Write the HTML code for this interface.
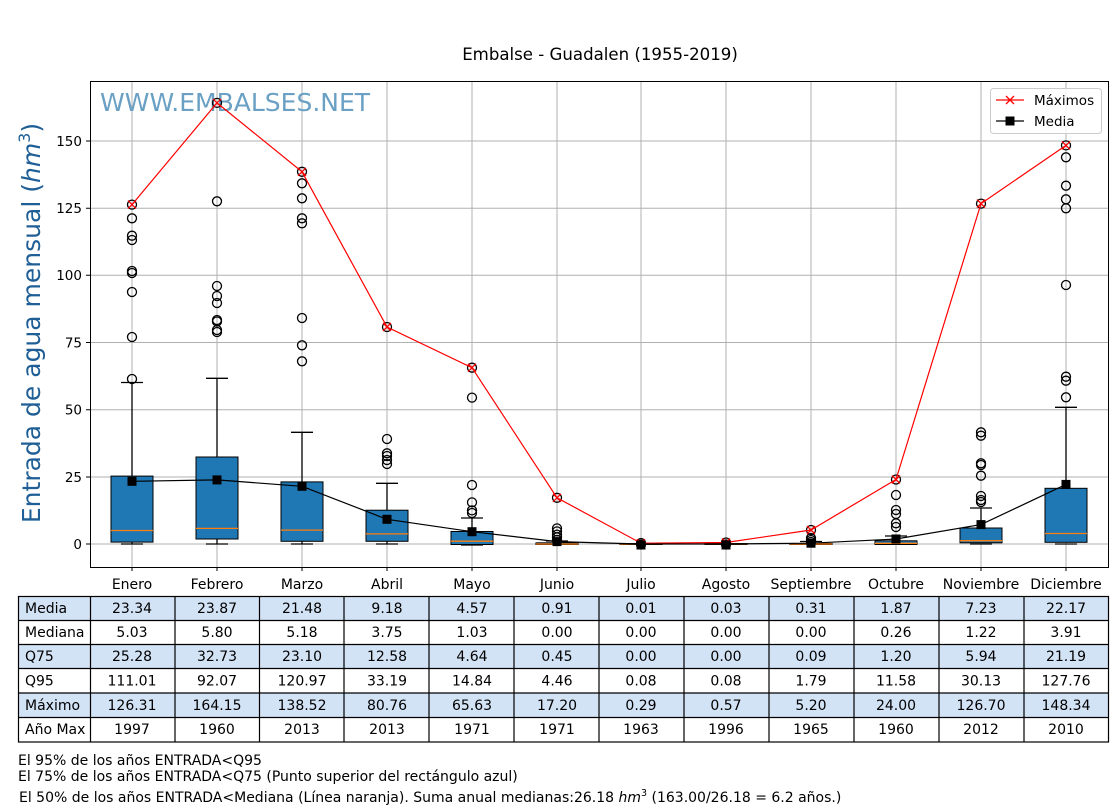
<!DOCTYPE html><html><head><meta charset="utf-8"><style>body{margin:0;background:#fff}svg{display:block}text{font-family:"DejaVu Sans","Liberation Sans",sans-serif}</style></head><body>
<svg width="1120" height="810" viewBox="0 0 1120 810">
<rect width="1120" height="810" fill="#fff"/>
<text x="600" y="60" font-size="16.6" text-anchor="middle">Embalse - Guadalen (1955-2019)</text>
<g stroke="#b0b0b0" stroke-width="1">
<line x1="90" x2="1108" y1="544" y2="544"/><line x1="90" x2="1108" y1="477" y2="477"/><line x1="90" x2="1108" y1="409.7" y2="409.7"/><line x1="90" x2="1108" y1="342.5" y2="342.5"/><line x1="90" x2="1108" y1="275.3" y2="275.3"/><line x1="90" x2="1108" y1="208.2" y2="208.2"/><line x1="90" x2="1108" y1="141" y2="141"/>
<line y1="81" y2="567" x1="132" x2="132"/><line y1="81" y2="567" x1="217" x2="217"/><line y1="81" y2="567" x1="302" x2="302"/><line y1="81" y2="567" x1="387" x2="387"/><line y1="81" y2="567" x1="472" x2="472"/><line y1="81" y2="567" x1="557" x2="557"/><line y1="81" y2="567" x1="641" x2="641"/><line y1="81" y2="567" x1="726" x2="726"/><line y1="81" y2="567" x1="811" x2="811"/><line y1="81" y2="567" x1="896" x2="896"/><line y1="81" y2="567" x1="981" x2="981"/><line y1="81" y2="567" x1="1066" x2="1066"/>
</g>
<text x="100" y="111" font-size="25" fill="#6aa0c4">WWW.EMBALSES.NET</text>
<g stroke="#000" stroke-width="1.3" fill="none">
<path d="M132 542V544M121 544H143M132 476V382.5M121 382.5H143"/>
<path d="M217 539V544M206 544H228M217 457V378.3M206 378.3H228"/>
<path d="M302 541V544M291 544H313M302 482V432.3M291 432.3H313"/>
<path d="M387 541V544M376 544H398M387 510V483.3M376 483.3H398"/>
<path d="M472 544V545M461 545H483M472 531.5V518M461 518H483"/>
<path d="M546 544H568M557 543V541M546 541H568"/>
<path d="M630 544H652M715 544H737M800 544H822M811 544V541.5M800 541.5H822"/>
<path d="M885 544H907M896 541V536M885 536H907"/>
<path d="M970 544H992M981 528V508M970 508H992"/>
<path d="M1055 544H1077M1066 488.3V407.3M1055 407.3H1077"/>
</g>
<g fill="#1f77b4" stroke="#000" stroke-width="1">
<rect x="111" y="476.1" width="42" height="66"/>
<rect x="196" y="457" width="42" height="82"/>
<rect x="281" y="481.9" width="42" height="59.4"/>
<rect x="366" y="510.2" width="42" height="31.1"/>
<rect x="451" y="531.5" width="42" height="13"/>
<rect x="536" y="542.8" width="42" height="1.7"/>
<rect x="620" y="543.5" width="42" height="1"/>
<rect x="705" y="543.5" width="42" height="1"/>
<rect x="790" y="543.5" width="42" height="1"/>
<rect x="875" y="540.8" width="42" height="3.7"/>
<rect x="960" y="528" width="42" height="14.8"/>
<rect x="1045" y="488.3" width="42" height="54"/>
</g>
<g stroke="#ff7f0e" stroke-width="1.3">
<path d="M111 530.5H153M196 528.4H238M281 530.1H323M366 533.9H408M451 541.2H493M536 544H578M620 544H662M705 544H747M790 544H832M875 543.3H917M960 540.7H1002M1045 533.5H1087"/>
</g>
<g fill="none" stroke="#000" stroke-width="1.3">
<circle cx="132" cy="218.3" r="4.5"/><circle cx="132" cy="235.7" r="4.5"/><circle cx="132" cy="240" r="4.5"/><circle cx="132" cy="271" r="4.5"/><circle cx="132" cy="273" r="4.5"/><circle cx="132" cy="292" r="4.5"/><circle cx="132" cy="337" r="4.5"/><circle cx="132" cy="379" r="4.5"/><circle cx="132" cy="204.6" r="4.5"/>
<circle cx="217" cy="201.3" r="4.5"/><circle cx="217" cy="286" r="4.5"/><circle cx="217" cy="296" r="4.5"/><circle cx="217" cy="303" r="4.5"/><circle cx="217" cy="320" r="4.5"/><circle cx="217" cy="321.5" r="4.5"/><circle cx="217" cy="330" r="4.5"/><circle cx="217" cy="332" r="4.5"/><circle cx="217" cy="102.9" r="4.5"/>
<circle cx="302" cy="171.8" r="4.5"/><circle cx="302" cy="183.3" r="4.5"/><circle cx="302" cy="198.3" r="4.5"/><circle cx="302" cy="218.3" r="4.5"/><circle cx="302" cy="223.3" r="4.5"/><circle cx="302" cy="318" r="4.5"/><circle cx="302" cy="345.3" r="4.5"/><circle cx="302" cy="361.3" r="4.5"/>
<circle cx="387" cy="327" r="4.5"/><circle cx="387" cy="439" r="4.5"/><circle cx="387" cy="453.3" r="4.5"/><circle cx="387" cy="456" r="4.5"/><circle cx="387" cy="460" r="4.5"/><circle cx="387" cy="464" r="4.5"/>
<circle cx="472" cy="367.7" r="4.5"/><circle cx="472" cy="397.6" r="4.5"/><circle cx="472" cy="485" r="4.5"/><circle cx="472" cy="502.4" r="4.5"/><circle cx="472" cy="510.4" r="4.5"/><circle cx="472" cy="513" r="4.5"/>
<circle cx="557" cy="497.8" r="4.5"/><circle cx="557" cy="528.4" r="4.5"/><circle cx="557" cy="531.4" r="4.5"/><circle cx="557" cy="534.6" r="4.5"/><circle cx="557" cy="537.3" r="4.5"/><circle cx="557" cy="540" r="4.5"/>
<circle cx="641" cy="543" r="4.5"/><circle cx="641" cy="544.5" r="4.5"/><circle cx="726" cy="542.5" r="4.5"/><circle cx="726" cy="544.5" r="4.5"/>
<circle cx="811" cy="530" r="4.5"/><circle cx="811" cy="538" r="4.5"/><circle cx="811" cy="540" r="4.5"/><circle cx="811" cy="542" r="4.5"/>
<circle cx="896" cy="479.5" r="4.5"/><circle cx="896" cy="495" r="4.5"/><circle cx="896" cy="510" r="4.5"/><circle cx="896" cy="514" r="4.5"/><circle cx="896" cy="523.3" r="4.5"/><circle cx="896" cy="527" r="4.5"/>
<circle cx="981" cy="203.6" r="4.5"/><circle cx="981" cy="432.3" r="4.5"/><circle cx="981" cy="435.7" r="4.5"/><circle cx="981" cy="463.3" r="4.5"/><circle cx="981" cy="465" r="4.5"/><circle cx="981" cy="475.7" r="4.5"/><circle cx="981" cy="496" r="4.5"/><circle cx="981" cy="500" r="4.5"/><circle cx="981" cy="502" r="4.5"/>
<circle cx="1066" cy="145.4" r="4.5"/><circle cx="1066" cy="157.3" r="4.5"/><circle cx="1066" cy="185.7" r="4.5"/><circle cx="1066" cy="199.3" r="4.5"/><circle cx="1066" cy="208.3" r="4.5"/><circle cx="1066" cy="285" r="4.5"/><circle cx="1066" cy="376.7" r="4.5"/><circle cx="1066" cy="380.7" r="4.5"/><circle cx="1066" cy="397.3" r="4.5"/>
</g>
<polyline fill="none" stroke="#f00" stroke-width="1.2" points="132,204.6 217,102.9 302,171.8 387,327 472,367.7 557,497.8 641,543.2 726,542.5 811,530 896,479.5 981,203.6 1066,145.4"/>
<g stroke="#f00" stroke-width="1.3">
<path d="M128,200.6l8,8m0,-8l-8,8M213,98.9l8,8m0,-8l-8,8M298,167.8l8,8m0,-8l-8,8M383,323l8,8m0,-8l-8,8M468,363.7l8,8m0,-8l-8,8M553,493.8l8,8m0,-8l-8,8M637,539.2l8,8m0,-8l-8,8M722,538.5l8,8m0,-8l-8,8M807,526l8,8m0,-8l-8,8M892,475.5l8,8m0,-8l-8,8M977,199.6l8,8m0,-8l-8,8M1062,141.4l8,8m0,-8l-8,8"/>
</g>
<polyline fill="none" stroke="#000" stroke-width="1.2" points="132,481.3 217,479.9 302,486.3 387,519.3 472,531.7 557,541.6 641,544 726,544 811,543.2 896,539 981,524.6 1066,484.4"/>
<g fill="#000">
<rect x="127.5" y="476.8" width="9" height="9"/><rect x="212.5" y="475.4" width="9" height="9"/><rect x="297.5" y="481.8" width="9" height="9"/><rect x="382.5" y="514.8" width="9" height="9"/><rect x="467.5" y="527.2" width="9" height="9"/><rect x="552.5" y="537.1" width="9" height="9"/><rect x="636.5" y="540.5" width="9" height="9"/><rect x="721.5" y="540.5" width="9" height="9"/><rect x="806.5" y="538.7" width="9" height="9"/><rect x="891.5" y="534.5" width="9" height="9"/><rect x="976.5" y="520.1" width="9" height="9"/><rect x="1061.5" y="479.9" width="9" height="9"/>
</g>
<rect x="90.5" y="81.5" width="1018" height="486" fill="none" stroke="#000" stroke-width="1"/>
<g stroke="#000"><path d="M86 544H90M86 477H90M86 409.7H90M86 342.5H90M86 275.3H90M86 208.2H90M86 141H90"/>
<path d="M132 567v4M217 567v4M302 567v4M387 567v4M472 567v4M557 567v4M641 567v4M726 567v4M811 567v4M896 567v4M981 567v4M1066 567v4"/></g>
<g font-size="13.5" text-anchor="end"><text x="82" y="549">0</text><text x="82" y="482">25</text><text x="82" y="414.5">50</text><text x="82" y="347.5">75</text><text x="82" y="280">100</text><text x="82" y="213">125</text><text x="82" y="146">150</text></g>
<g font-size="14" text-anchor="middle"><text x="132" y="589">Enero</text><text x="217" y="589">Febrero</text><text x="302" y="589">Marzo</text><text x="387" y="589">Abril</text><text x="472" y="589">Mayo</text><text x="557" y="589">Junio</text><text x="641" y="589">Julio</text><text x="726" y="589">Agosto</text><text x="811" y="589">Septiembre</text><text x="896" y="589">Octubre</text><text x="981" y="589">Noviembre</text><text x="1066" y="589">Diciembre</text></g>
<text transform="translate(40,323) rotate(-90)" font-size="25" fill="#1f5f96" text-anchor="middle">Entrada de agua mensual (<tspan font-style="italic">hm</tspan><tspan font-size="16" dy="-10">3</tspan><tspan dy="10">)</tspan></text>
<rect x="990.5" y="88.5" width="111" height="45" rx="3" fill="#fff" fill-opacity="0.8" stroke="#ccc"/>
<line x1="996" x2="1024" y1="100" y2="100" stroke="#f00" stroke-width="1.2"/><path d="M1006 96l8 8m0-8l-8 8" stroke="#f00" stroke-width="1.3"/>
<line x1="996" x2="1024" y1="121" y2="121" stroke="#000" stroke-width="1.2"/><rect x="1005.5" y="116.5" width="9" height="9"/>
<text x="1034" y="105" font-size="13.5">Máximos</text><text x="1034" y="126" font-size="13.5">Media</text>
<g fill="#d3e3f6"><rect x="18" y="596" width="1091" height="24"/><rect x="18" y="644" width="1091" height="24.5"/><rect x="18" y="693" width="1091" height="24"/></g>
<g stroke="#000" stroke-width="1.2" fill="none">
<rect x="18.5" y="596.5" width="1090" height="145.5"/>
<path d="M18 620.5H1109M18 644.5H1109M18 668.5H1109M18 693H1109M18 717.5H1109"/>
<path d="M90.5 596V742M175 596V742M259.5 596V742M344 596V742M429 596V742M514 596V742M599 596V742M684 596V742M769 596V742M854 596V742M939 596V742M1024 596V742"/>
</g>
<g font-size="14">
<text x="25" y="613">Media</text><text x="25" y="637">Mediana</text><text x="25" y="661">Q75</text><text x="25" y="685.5">Q95</text><text x="25" y="710">Máximo</text><text x="25" y="734">Año Max</text>
</g>
<g font-size="14" text-anchor="middle">
<text y="613"><tspan x="132">23.34</tspan><tspan x="217">23.87</tspan><tspan x="302">21.48</tspan><tspan x="387">9.18</tspan><tspan x="472">4.57</tspan><tspan x="557">0.91</tspan><tspan x="641">0.01</tspan><tspan x="726">0.03</tspan><tspan x="811">0.31</tspan><tspan x="896">1.87</tspan><tspan x="981">7.23</tspan><tspan x="1066">22.17</tspan></text>
<text y="637"><tspan x="132">5.03</tspan><tspan x="217">5.80</tspan><tspan x="302">5.18</tspan><tspan x="387">3.75</tspan><tspan x="472">1.03</tspan><tspan x="557">0.00</tspan><tspan x="641">0.00</tspan><tspan x="726">0.00</tspan><tspan x="811">0.00</tspan><tspan x="896">0.26</tspan><tspan x="981">1.22</tspan><tspan x="1066">3.91</tspan></text>
<text y="661"><tspan x="132">25.28</tspan><tspan x="217">32.73</tspan><tspan x="302">23.10</tspan><tspan x="387">12.58</tspan><tspan x="472">4.64</tspan><tspan x="557">0.45</tspan><tspan x="641">0.00</tspan><tspan x="726">0.00</tspan><tspan x="811">0.09</tspan><tspan x="896">1.20</tspan><tspan x="981">5.94</tspan><tspan x="1066">21.19</tspan></text>
<text y="685.5"><tspan x="132">111.01</tspan><tspan x="217">92.07</tspan><tspan x="302">120.97</tspan><tspan x="387">33.19</tspan><tspan x="472">14.84</tspan><tspan x="557">4.46</tspan><tspan x="641">0.08</tspan><tspan x="726">0.08</tspan><tspan x="811">1.79</tspan><tspan x="896">11.58</tspan><tspan x="981">30.13</tspan><tspan x="1066">127.76</tspan></text>
<text y="710"><tspan x="132">126.31</tspan><tspan x="217">164.15</tspan><tspan x="302">138.52</tspan><tspan x="387">80.76</tspan><tspan x="472">65.63</tspan><tspan x="557">17.20</tspan><tspan x="641">0.29</tspan><tspan x="726">0.57</tspan><tspan x="811">5.20</tspan><tspan x="896">24.00</tspan><tspan x="981">126.70</tspan><tspan x="1066">148.34</tspan></text>
<text y="734"><tspan x="132">1997</tspan><tspan x="217">1960</tspan><tspan x="302">2013</tspan><tspan x="387">2013</tspan><tspan x="472">1971</tspan><tspan x="557">1971</tspan><tspan x="641">1963</tspan><tspan x="726">1996</tspan><tspan x="811">1965</tspan><tspan x="896">1960</tspan><tspan x="981">2012</tspan><tspan x="1066">2010</tspan></text>
</g>
<g font-size="14">
<text x="18" y="765">El 95% de los años ENTRADA&lt;Q95</text>
<text x="18" y="781">El 75% de los años ENTRADA&lt;Q75 (Punto superior del rectángulo azul)</text>
<text x="19" y="802">El 50% de los años ENTRADA&lt;Mediana (Línea naranja). Suma anual medianas:26.18 <tspan font-style="italic">hm</tspan><tspan font-size="9.5" dy="-6">3</tspan><tspan dy="6"> (163.00/26.18 = 6.2 años.)</tspan></text>
</g>
</svg></body></html>
